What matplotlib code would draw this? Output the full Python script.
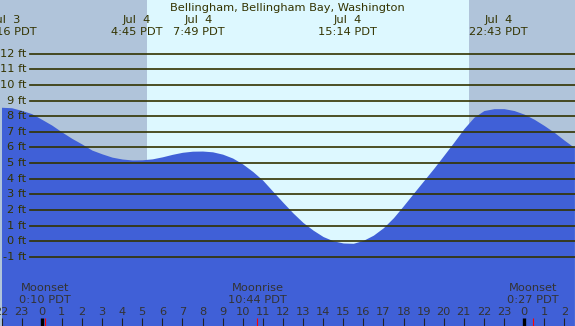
import matplotlib
matplotlib.use("Agg")
import matplotlib.pyplot as plt
import matplotlib.transforms as mtransforms

# tide height (ft), every half hour (hours since Jul 4 00:00)
hours = [-2.0, -1.5, -1.0, -0.5, 0.0, 0.5, 1.0, 1.5, 2.0, 2.5, 3.0, 3.5, 4.0, 4.5,
         5.0, 5.5, 6.0, 6.5, 7.0, 7.5, 8.0, 8.5, 9.0, 9.5, 10.0, 10.5, 11.0, 11.5,
         12.0, 12.5, 13.0, 13.5, 14.0, 14.5, 15.0, 15.5, 16.0, 16.5, 17.0, 17.5,
         18.0, 18.5, 19.0, 19.5, 20.0, 20.5, 21.0, 21.5, 22.0, 22.5, 23.0, 23.5,
         24.0, 24.5, 25.0, 25.5, 26.0, 26.5]
heights = [8.57, 8.54, 8.37, 8.16, 7.80, 7.43, 6.99, 6.58, 6.22, 5.83, 5.59, 5.38,
           5.26, 5.20, 5.21, 5.27, 5.40, 5.56, 5.69, 5.76, 5.77, 5.72, 5.57, 5.32,
           4.94, 4.46, 3.90, 3.19, 2.49, 1.81, 1.20, 0.71, 0.30, 0.03, -0.11, -0.13,
           0.06, 0.39, 0.87, 1.51, 2.28, 3.08, 3.87, 4.66, 5.49, 6.33, 7.20, 7.93,
           8.36, 8.48, 8.48, 8.36, 8.13, 7.80, 7.40, 6.96, 6.46, 5.99]

# high / low tide events
tide_times = [-1.733, 4.75, 7.817, 15.233, 22.717]
tide_dates = ["Jul  3", "Jul  4", "Jul  4", "Jul  4", "Jul  4"]
tide_labels = ["22:16 PDT", "4:45 PDT", "7:49 PDT", "15:14 PDT", "22:43 PDT"]

# moon events
moon_times = [0.167, 10.733, 24.45]
moon_names = ["Moonset", "Moonrise", "Moonset"]
moon_labels = ["0:10 PDT", "10:44 PDT", "0:27 PDT"]

sunrise = 5.233
sunset = 21.267

ft_levels = list(range(-1, 13))
hour_ticks = list(range(-2, 27))

title = "Bellingham, Bellingham Bay, Washington"

x_min, x_max = -2.075, 26.53
y_min, y_max = -5.42, 15.43

night_col = "#b0c4da"
day_col = "#ddf8ff"
water_col = "#4060d7"
line_col = "#333300"
text_col = "#333300"
low_text_col = "#333333"

fig = plt.figure(figsize=(5.75, 3.26), dpi=100)
ax = fig.add_axes([0, 0, 1, 1])
ax.set_xlim(x_min, x_max)
ax.set_ylim(y_min, y_max)
ax.axis("off")

# day / night background
ax.axvspan(x_min, sunrise, color=night_col, zorder=0, lw=0)
ax.axvspan(sunrise, sunset, color=day_col, zorder=0, lw=0)
ax.axvspan(sunset, x_max, color=night_col, zorder=0, lw=0)

# water
ax.fill_between(hours, heights, y_min - 1, color=water_col, lw=0, zorder=1)

# height lines + labels
for ft in ft_levels:
    ax.axhline(ft, xmin=0.052, xmax=1, color=line_col, lw=1.2, zorder=2)
    ax.text(0.046, ft, f"{ft} ft", transform=mtransforms.blended_transform_factory(ax.transAxes, ax.transData),
            ha="right", va="center", fontsize=8.2, color=text_col, zorder=3)

trans = mtransforms.blended_transform_factory(ax.transData, ax.transAxes)

# title and tide labels
ax.text(0.5, 0.975, title, transform=ax.transAxes, ha="center", va="center",
        fontsize=8.2, color=text_col)
for t, d, lab in zip(tide_times, tide_dates, tide_labels):
    ax.text(t, 0.939, d, transform=trans, ha="center", va="center", fontsize=8.2, color=text_col)
    ax.text(t, 0.902, lab, transform=trans, ha="center", va="center", fontsize=8.2, color=text_col)

# moon labels
for t, name, lab in zip(moon_times, moon_names, moon_labels):
    ax.text(t, 0.118, name, transform=trans, ha="center", va="center", fontsize=8.2, color=low_text_col)
    ax.text(t, 0.081, lab, transform=trans, ha="center", va="center", fontsize=8.2, color=low_text_col)
    ax.vlines(t, 0, 0.0245, transform=trans, color="red", lw=0.8, zorder=3)

# hour axis
for h in hour_ticks:
    ax.text(h, 0.044, str(h % 24), transform=trans, ha="center", va="center",
            fontsize=8.2, color=low_text_col)
    if h % 24 == 0:
        ax.vlines(h, 0, 0.0245, transform=trans, color="black", lw=2.4, zorder=3)
    else:
        ax.vlines(h, 0, 0.0245, transform=trans, color="#222222", lw=0.8, zorder=3)

fig.savefig("out.png", dpi=100)
